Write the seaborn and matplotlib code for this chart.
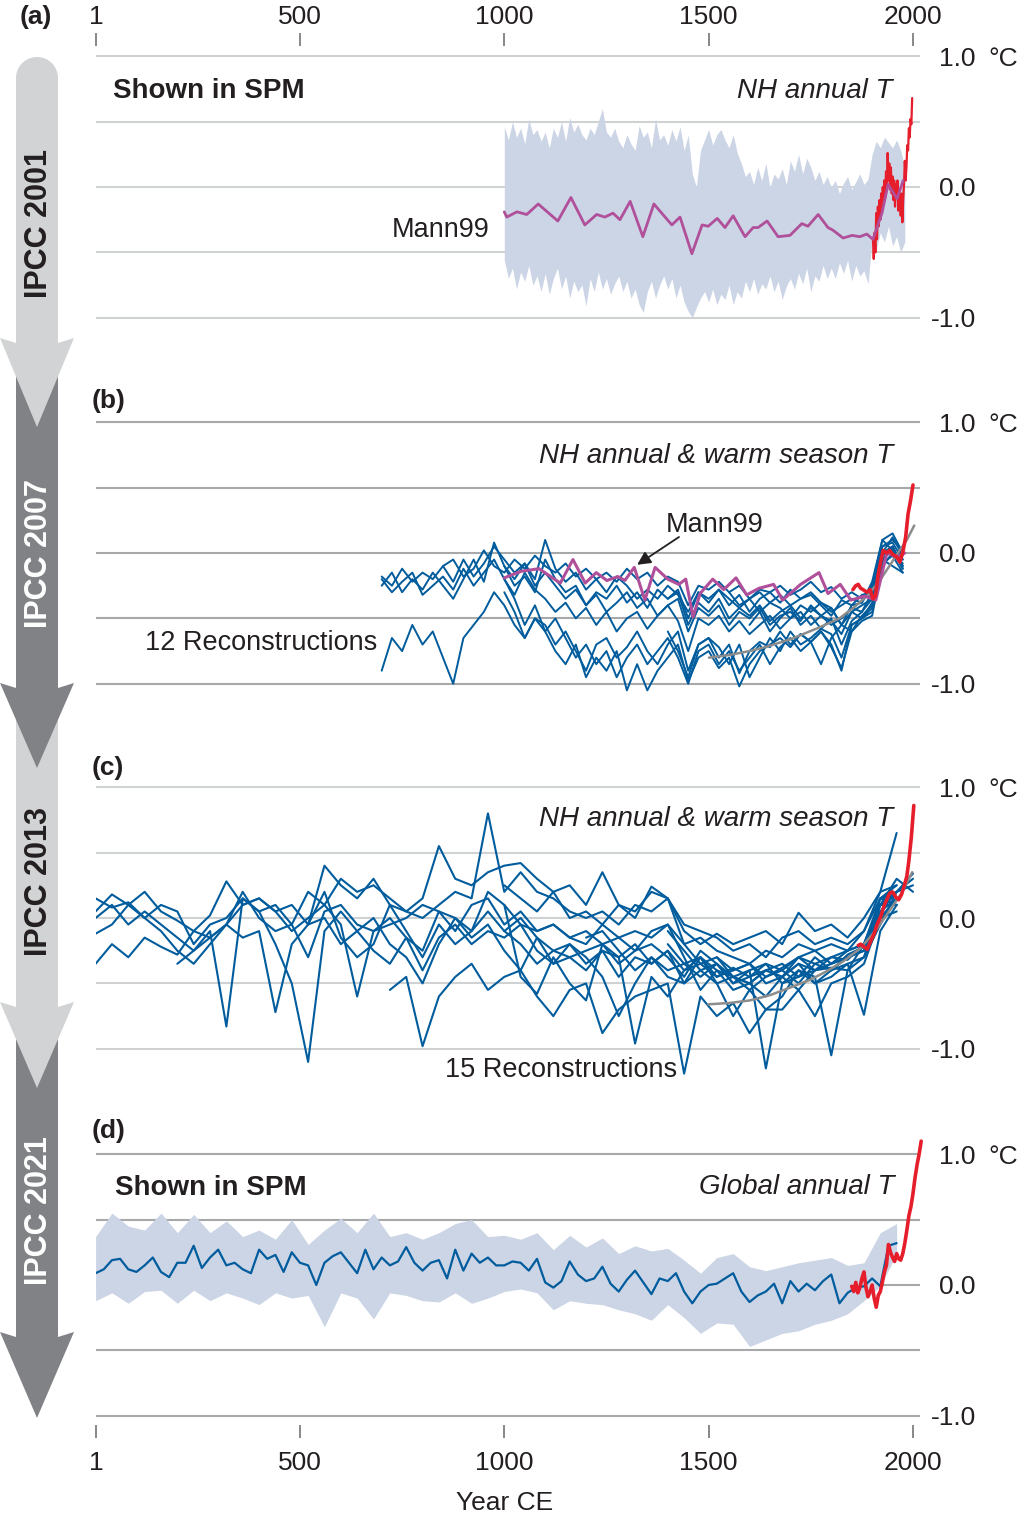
import numpy as np
import pandas as pd
import matplotlib
matplotlib.use("Agg")
import matplotlib.pyplot as plt
from matplotlib.patches import Polygon, Circle
import seaborn as sns

nan = np.nan

# ---------------- data ----------------
TICK_YEARS = [1, 500, 1000, 1500, 2000]

# (a) IPCC 2001: Mann99 uncertainty band, smoothed Mann99, instrumental
A_BAND_YEARS = list(range(1000, 1981, 10))
A_BAND_HI = [0.46, 0.36, 0.50, 0.38, 0.45, 0.33, 0.52, 0.40, 0.44, 0.35,
             0.42, 0.30, 0.45, 0.38, 0.50, 0.35, 0.53, 0.42, 0.48, 0.40,
             0.36, 0.45, 0.40, 0.50, 0.60, 0.42, 0.38, 0.45, 0.35, 0.30,
             0.40, 0.33, 0.28, 0.47, 0.38, 0.42, 0.30, 0.52, 0.36, 0.40,
             0.32, 0.44, 0.35, 0.46, 0.28, 0.40, 0.10, 0.00, 0.28, 0.36,
             0.44, 0.32, 0.40, 0.44, 0.36, 0.30, 0.40, 0.26, 0.18, 0.08,
             0.12, 0.02, 0.15, 0.05, 0.18, 0.00, 0.10, 0.06, 0.14, 0.02,
             0.20, 0.12, 0.25, 0.10, 0.22, 0.15, 0.05, 0.12, 0.02, 0.08,
             0.00, 0.05, -0.05, 0.03, 0.08, -0.02, 0.04, 0.10, 0.02, 0.06,
             0.25, 0.35, 0.30, 0.38, 0.34, 0.30, 0.36, 0.28, 0.15]
A_BAND_LO = [-0.56, -0.70, -0.62, -0.78, -0.65, -0.72, -0.60, -0.75, -0.68, -0.80,
             -0.66, -0.82, -0.70, -0.62, -0.78, -0.68, -0.85, -0.72, -0.80, -0.75,
             -0.91, -0.70, -0.80, -0.65, -0.78, -0.70, -0.82, -0.74, -0.68, -0.80,
             -0.72, -0.85, -0.78, -0.90, -0.96, -0.80, -0.72, -0.85, -0.75, -0.68,
             -0.78, -0.70, -0.85, -0.75, -0.88, -0.95, -1.00, -0.92, -0.85, -0.80,
             -0.88, -0.78, -0.90, -0.82, -0.86, -0.75, -0.90, -0.80, -0.85, -0.72,
             -0.80, -0.70, -0.82, -0.74, -0.78, -0.68, -0.80, -0.72, -0.86, -0.76,
             -0.70, -0.78, -0.66, -0.74, -0.62, -0.80, -0.68, -0.72, -0.60, -0.70,
             -0.62, -0.70, -0.58, -0.66, -0.56, -0.72, -0.60, -0.68, -0.64, -0.74,
             -0.40, -0.48, -0.35, -0.42, -0.30, -0.45, -0.38, -0.50, -0.42]
A_MANN_YEARS = [1000, 1006, 1031, 1055, 1083, 1131, 1163, 1197, 1226, 1246, 1266,
                1283, 1308, 1339, 1366, 1410, 1430, 1459, 1484, 1499, 1521, 1540,
                1560, 1589, 1609, 1621, 1643, 1670, 1699, 1728, 1743, 1768, 1792,
                1804, 1829, 1851, 1870, 1887, 1902, 1924, 1939, 1961, 1976]
A_MANN = [-0.19, -0.23, -0.19, -0.21, -0.13, -0.26, -0.08, -0.29, -0.21, -0.23, -0.20,
          -0.25, -0.11, -0.38, -0.13, -0.29, -0.23, -0.51, -0.29, -0.30, -0.24, -0.31,
          -0.22, -0.38, -0.31, -0.31, -0.26, -0.38, -0.37, -0.28, -0.30, -0.21, -0.31,
          -0.33, -0.39, -0.37, -0.38, -0.36, -0.40, -0.20, 0.02, -0.09, 0.05]
A_RED_YEARS = list(range(1902, 1999, 2))
A_RED = [-0.40, -0.55, -0.35, -0.50, -0.20, -0.40, -0.15, -0.30, -0.10, -0.25,
         -0.05, -0.20, 0.00, -0.10, 0.05, -0.08, 0.12, 0.00, 0.26, 0.05,
         0.18, -0.02, 0.15, -0.05, 0.08, -0.10, 0.05, -0.15, 0.02, -0.08,
         0.05, -0.18, -0.02, -0.12, -0.22, -0.05, -0.27, -0.10, 0.02, 0.20,
         0.05, 0.15, 0.32, 0.28, 0.45, 0.38, 0.52, 0.48, 0.68]

# (b) IPCC 2007: 12 reconstructions (25-yr steps), Mann99, boreholes, instrumental
B_YEARS = list(range(700, 2001, 25))
B_RECONS = [
    [-0.18, -0.25, -0.12, -0.22, -0.15, -0.20, -0.10, -0.05, -0.18, -0.12,
     0.02, -0.10, -0.15, -0.05, -0.12, -0.02, -0.10, -0.15, -0.08, -0.18,
     -0.12, -0.20, -0.15, -0.22, -0.12, -0.20, -0.15, -0.25, -0.18, -0.22,
     -0.40, -0.25, -0.28, -0.22, -0.30, -0.25, -0.35, -0.28, -0.30, -0.25,
     -0.32, -0.28, -0.22, -0.30, -0.26, -0.35, -0.30, -0.35, -0.25, 0.05,
     0.10, 0.02, nan],
    [-0.25, -0.15, -0.30, -0.20, -0.28, -0.15, -0.25, -0.35, -0.20, -0.05,
     -0.22, 0.08, -0.10, -0.25, -0.18, -0.30, -0.05, -0.20, -0.30, -0.25,
     -0.40, -0.30, -0.35, -0.25, -0.38, -0.30, -0.42, -0.28, -0.35, -0.30,
     -0.55, -0.38, -0.45, -0.35, -0.50, -0.42, -0.48, -0.40, -0.52, -0.45,
     -0.40, -0.50, -0.42, -0.48, -0.55, -0.50, -0.42, -0.45, -0.30, 0.00,
     0.05, -0.10, nan],
    [-0.20, -0.30, -0.22, -0.15, -0.32, -0.25, -0.18, -0.28, -0.12, -0.25,
     -0.15, -0.05, -0.20, -0.32, -0.15, -0.28, -0.35, -0.45, -0.38, -0.50,
     -0.42, -0.55, -0.45, -0.60, -0.50, -0.45, -0.58, -0.48, -0.40, -0.52,
     -0.75, -0.50, -0.55, -0.48, -0.60, -0.52, -0.62, -0.55, -0.48, -0.58,
     -0.50, -0.45, -0.55, -0.48, -0.52, -0.62, -0.45, -0.50, -0.38, -0.05,
     -0.10, -0.15, nan],
    [-0.90, -0.65, -0.75, -0.55, -0.70, -0.60, -0.80, -1.00, -0.65, -0.55,
     -0.45, -0.30, -0.40, -0.55, -0.65, -0.50, -0.60, -0.75, -0.85, -0.70,
     -0.95, -0.80, -0.90, -0.75, -1.05, -0.85, -1.05, -0.90, -0.80, -0.70,
     -0.98, -0.80, -0.75, -0.88, -0.80, -1.02, -0.85, -0.75, -0.70, -0.65,
     -0.72, -0.62, -0.68, -0.60, -0.70, -0.90, -0.55, -0.50, -0.42, -0.10,
     0.00, -0.08, nan],
    [nan] * 6 + [-0.10, -0.22, -0.05, -0.18,
     -0.08, 0.05, -0.05, -0.15, -0.08, -0.20, 0.10, -0.12, -0.22, -0.15,
     -0.28, -0.20, -0.30, -0.18, -0.25, -0.35, -0.28, -0.35, -0.25, -0.32,
     -0.45, -0.30, -0.38, -0.28, -0.35, -0.42, -0.35, -0.30, -0.38, -0.32,
     -0.40, -0.35, -0.30, -0.38, -0.45, -0.40, -0.35, -0.38, -0.22, 0.10,
     0.02, -0.05, nan],
    [nan] * 12 + [-0.30, -0.45, -0.65, -0.50, -0.55, -0.70, -0.60, -0.75,
     -0.90, -0.70, -0.65, -0.80, -0.72, -0.60, -0.75, -0.85, -0.70, -0.60,
     -0.90, -0.70, -0.65, -0.72, -0.85, -0.70, -0.95, -0.80, -0.65, -0.75,
     -0.60, -0.70, -0.65, -0.58, -0.62, -0.80, -0.55, -0.50, -0.45, -0.05,
     0.05, -0.12, nan],
    [nan] * 12 + [-0.10, -0.20, -0.08, -0.25, -0.15, -0.25, -0.35, -0.28,
     -0.40, -0.32, -0.45, -0.38, -0.30, -0.42, -0.35, -0.48, -0.40, -0.35,
     -0.60, -0.42, -0.48, -0.40, -0.55, -0.45, -0.50, -0.42, -0.55, -0.48,
     -0.45, -0.52, -0.40, -0.48, -0.42, -0.55, -0.45, -0.40, -0.35, 0.00,
     0.12, -0.02, nan],
    [nan] * 12 + [-0.20, -0.35, -0.55, -0.40, -0.60, -0.50, -0.65, -0.80,
     -0.70, -0.85, -0.75, -0.95, -0.80, -0.70, -0.85, -0.75, -0.65, -0.80,
     -1.00, -0.75, -0.70, -0.85, -0.75, -0.90, -0.80, -0.70, -0.85, -0.72,
     -0.65, -0.75, -0.68, -0.60, -0.72, -0.88, -0.60, -0.52, -0.48, -0.08,
     -0.02, -0.15, nan],
    [nan] * 28 + [-0.35, -0.28, -0.50, -0.30, -0.35, -0.28, -0.40, -0.32, -0.45, -0.35,
     -0.30, -0.38, -0.28, -0.35, -0.32, -0.40, -0.48, -0.36, -0.40, -0.32,
     -0.30, 0.05, 0.08, -0.05, nan],
    [nan] * 28 + [-0.60, -0.75, -0.95, -0.70, -0.65, -0.80, -0.70, -0.92, -0.75, -0.68,
     -0.72, -0.60, -0.70, -0.62, -0.68, -0.85, -0.65, -0.55, -0.60, -0.48,
     -0.40, -0.02, 0.05, -0.10, nan],
    [nan] * 34 + [-0.30, -0.40, -0.35, -0.45, -0.38, -0.42, -0.50, -0.40, -0.45, -0.38,
     -0.42, -0.55, -0.40, -0.38, -0.25, 0.10, 0.15, 0.00, nan],
    [nan] * 36 + [-0.55, -0.45, -0.60, -0.50, -0.42, -0.55, -0.48, -0.58, -0.50, -0.70,
     -0.52, -0.45, -0.35, -0.05, 0.02, -0.12, nan],
]
B_MANN_YEARS = [1000, 1041, 1085, 1137, 1168, 1198, 1225, 1251, 1278, 1295, 1318, 1344,
                1369, 1400, 1427, 1444, 1462, 1479, 1510, 1537, 1567, 1593, 1623, 1659,
                1681, 1725, 1770, 1792, 1822, 1848, 1882, 1909, 1936, 1962, 1980]
B_MANN = [-0.19, -0.14, -0.12, -0.23, -0.05, -0.23, -0.15, -0.21, -0.18, -0.21, -0.11, -0.36,
          -0.11, -0.20, -0.24, -0.20, -0.49, -0.31, -0.20, -0.28, -0.19, -0.32, -0.27, -0.24,
          -0.36, -0.24, -0.15, -0.31, -0.24, -0.36, -0.33, -0.36, 0.00, -0.03, 0.00]
B_BORE_YEARS = [1501, 1550, 1600, 1638, 1700, 1770, 1820, 1858, 1890, 1919, 1940, 1963, 1985, 2003]
B_BORE = [-0.80, -0.78, -0.75, -0.72, -0.66, -0.57, -0.50, -0.41, -0.32, -0.21, -0.11, 0.00, 0.10, 0.21]
B_RED_YEARS = [1853, 1860, 1866, 1872, 1878, 1887, 1895, 1902, 1908, 1914, 1920,
               1927, 1935, 1943, 1950, 1960, 1968, 1976, 1982, 1988, 1994, 2000]
B_RED = [-0.28, -0.25, -0.24, -0.27, -0.28, -0.30, -0.28, -0.35, -0.33, -0.18, -0.08,
         0.02, 0.00, 0.02, -0.01, -0.03, -0.07, 0.02, 0.12, 0.30, 0.40, 0.52]

# (c) IPCC 2013: 15 reconstructions (40-yr steps), boreholes, instrumental
C_YEARS = list(range(0, 2001, 40))
C_RECONS = [
    [0.05, 0.18, 0.10, 0.20, 0.05, -0.02, -0.10, 0.02, 0.28, 0.10,
     0.15, 0.05, 0.10, -0.05, 0.40, 0.25, 0.15, 0.30, 0.10, 0.05,
     0.15, 0.55, 0.30, 0.25, 0.35, 0.40, 0.42, 0.30, 0.20, 0.25,
     0.10, 0.35, 0.10, 0.05, 0.20, 0.15, -0.05, -0.10, -0.15, -0.25,
     -0.20, -0.30, -0.15, -0.10, -0.20, -0.15, -0.20, -0.10, 0.20, 0.25, nan],
    [0.15, 0.08, 0.12, 0.00, 0.10, 0.05, -0.20, -0.05, 0.00, 0.15,
     0.05, 0.10, -0.05, 0.20, 0.10, 0.30, 0.20, 0.25, 0.15, 0.05,
     0.00, 0.10, 0.20, 0.15, 0.80, 0.20, 0.35, 0.20, 0.15, 0.05,
     0.00, 0.05, -0.05, 0.10, 0.05, 0.15, -0.20, -0.15, -0.25, -0.30,
     -0.35, -0.25, -0.30, -0.20, -0.25, -0.20, -0.25, -0.10, 0.15, 0.10, nan],
    [-0.12, -0.05, 0.10, 0.00, -0.10, -0.25, -0.35, -0.20, -0.05, 0.20,
     0.00, -0.10, -0.05, -0.30, 0.05, 0.10, -0.05, -0.10, 0.00, -0.15,
     -0.25, 0.05, -0.10, 0.10, 0.15, -0.05, 0.05, -0.10, -0.05, -0.15,
     -0.20, -0.05, -0.15, -0.25, -0.10, -0.05, -0.30, -0.55, -0.40, -0.45,
     -0.50, -0.40, -0.45, -0.35, -0.40, -0.30, -0.32, -0.20, 0.10, 0.20, 0.25],
    [-0.35, -0.20, -0.30, -0.15, -0.22, -0.28, -0.10, -0.15, -0.05, -0.15,
     -0.10, -0.72, -0.20, -0.05, 0.00, -0.20, -0.10, -0.25, -0.35, -0.15,
     -0.40, -0.15, -0.05, -0.20, -0.10, -0.15, -0.05, -0.25, -0.35, -0.30,
     -0.40, -0.25, -0.45, -0.30, -0.35, -0.25, -0.50, -0.40, -0.50, -0.45,
     -0.55, -0.45, -0.40, -0.50, -0.35, -0.40, -0.30, -0.25, 0.05, 0.15, nan],
    [0.00, 0.10, -0.05, 0.05, -0.05, -0.15, -0.25, -0.10, -0.83, 0.15,
     0.05, -0.20, -0.50, -1.10, -0.10, 0.05, -0.10, 0.00, -0.20, -0.30,
     -0.50, -0.20, 0.00, -0.15, -0.05, -0.25, -0.40, -0.15, -0.35, -0.20,
     -0.30, -0.45, -0.75, -0.50, -0.30, -0.40, -0.35, -0.45, -0.35, -0.50,
     -0.40, -0.35, -0.40, -0.30, -0.25, -0.35, -0.25, -0.20, 0.10, 0.30, 0.20],
    [nan] * 5 + [-0.35, -0.25, -0.15, -0.05, 0.10,
     0.15, 0.05, -0.10, 0.00, 0.10, -0.05, -0.60, -0.10, -0.05, 0.00,
     0.10, 0.05, 0.00, -0.10, 0.20, 0.10, -0.05, -0.10, -0.05, -0.15,
     -0.10, -0.20, -0.15, -0.10, -0.15, -0.05, -0.20, -0.35, -0.30, -0.45,
     -0.40, -1.15, -0.50, -0.45, -0.40, -0.35, -0.30, -0.25, 0.15, 0.25, nan],
    [nan] * 13 + [-0.05, 0.20, -0.15, -0.30, -0.20, 0.10, -0.10,
     -0.30, -0.05, -0.20, -0.10, 0.05, -0.10, -0.20, -0.35, -0.25, -0.30,
     -0.25, -0.20, -0.35, -0.25, -0.20, -0.30, -0.45, -0.25, -0.35, -0.50,
     -0.45, -0.35, -0.50, -0.40, -0.45, -1.05, -0.40, -0.20, 0.10, 0.20, nan],
    [nan] * 18 + [-0.55, -0.45,
     -0.98, -0.60, -0.45, -0.35, -0.55, -0.45, -0.40, -0.60, -0.75, -0.55,
     -0.50, -0.88, -0.70, -0.60, -0.55, -0.50, -1.19, -0.60, -0.75, -0.65,
     -0.88, -0.70, -0.70, -0.55, -0.75, -0.50, -0.45, -0.35, 0.00, 0.05, nan],
    [nan] * 25 + [0.10, -0.45, -0.58, -0.30, -0.50,
     -0.63, -0.20, -0.30, -0.96, -0.45, -0.60, -0.40, -0.30, -0.50, -0.75,
     -0.55, -0.70, -0.60, -0.40, -0.50, -0.45, -0.35, -0.74, -0.10, 0.10, nan],
    [nan] * 25 + [0.25, 0.15, 0.05, 0.20, 0.00,
     0.05, -0.05, 0.10, 0.00, 0.24, 0.15, -0.10, -0.20, -0.12, -0.20,
     -0.15, -0.10, -0.20, 0.04, -0.10, -0.05, -0.15, 0.00, 0.20, 0.65, nan],
    [nan] * 25 + [-0.10, 0.00, -0.15, -0.25, -0.20,
     -0.35, -0.25, -0.30, -0.20, -0.35, -0.25, -0.40, -0.35, -0.45, -0.40,
     -0.35, -0.45, -0.38, -0.30, -0.40, -0.35, -0.30, -0.25, 0.00, 0.15, nan],
    [nan] * 35 + [-0.20, -0.35, -0.30, -0.45, -0.38,
     -0.45, -0.40, -0.35, -0.45, -0.30, -0.40, -0.28, -0.22, 0.05, 0.20, 0.34],
    [nan] * 35 + [-0.10, -0.25, -0.40, -0.35, -0.45,
     -0.50, -0.40, -0.45, -0.35, -0.50, -0.40, -0.35, -0.30, 0.10, 0.10, nan],
    [nan] * 38 + [-0.30, -0.40,
     -0.35, -0.50, -0.45, -0.30, -0.35, -0.30, -0.25, -0.20, 0.15, 0.20, 0.30],
    [nan] * 30 + [-0.15, -0.10, -0.25, -0.40, -0.30, -0.45, -0.50, -0.30, -0.40, -0.55,
     -0.50, -0.60, -0.45, -0.55, -0.40, -0.38, -0.40, -0.30, -0.05, 0.20, nan],
]
C_BORE_YEARS = [1499, 1550, 1601, 1650, 1701, 1750, 1787, 1830, 1872, 1910, 1939, 1970, 1998]
C_BORE = [-0.66, -0.65, -0.63, -0.59, -0.53, -0.47, -0.41, -0.33, -0.23, -0.09, 0.04, 0.18, 0.35]
C_RED_YEARS = [1866, 1872, 1880, 1888, 1896, 1905, 1912, 1921, 1930, 1943,
               1950, 1958, 1965, 1972, 1978, 1985, 1990, 1996, 2002]
C_RED = [-0.21, -0.20, -0.22, -0.24, -0.18, -0.12, -0.05, 0.01, 0.10, 0.19,
         0.20, 0.16, 0.14, 0.18, 0.24, 0.32, 0.44, 0.62, 0.86]

# (d) IPCC 2021: global reconstruction, its range, instrumental
D_YEARS = list(range(0, 1961, 20))
D_MEAN = [0.09, 0.12, 0.19, 0.20, 0.12, 0.10, 0.15, 0.21, 0.10, 0.06,
          0.17, 0.17, 0.30, 0.13, 0.21, 0.27, 0.15, 0.17, 0.12, 0.09,
          0.27, 0.20, 0.23, 0.10, 0.25, 0.17, 0.15, 0.00, 0.17, 0.22,
          0.25, 0.17, 0.09, 0.27, 0.12, 0.21, 0.15, 0.18, 0.29, 0.17,
          0.11, 0.17, 0.19, 0.05, 0.27, 0.11, 0.24, 0.17, 0.21, 0.15,
          0.15, 0.18, 0.17, 0.11, 0.20, 0.02, -0.02, 0.03, 0.18, 0.08,
          0.03, 0.05, 0.14, 0.01, -0.05, 0.04, 0.11, 0.02, -0.07, 0.05,
          0.03, 0.09, -0.05, -0.14, -0.05, 0.00, 0.01, 0.05, 0.09, -0.05,
          -0.13, -0.08, -0.05, 0.01, -0.14, 0.03, -0.05, 0.01, -0.04, 0.03,
          0.08, -0.14, -0.06, -0.02, -0.01, 0.05, -0.01, 0.30, 0.32]
D_BAND_YEARS = list(range(0, 1961, 40))
D_BAND_HI = [0.37, 0.55, 0.45, 0.42, 0.55, 0.40, 0.54, 0.40, 0.49, 0.37,
             0.42, 0.35, 0.50, 0.31, 0.42, 0.51, 0.40, 0.55, 0.37, 0.40,
             0.35, 0.40, 0.47, 0.50, 0.37, 0.38, 0.35, 0.40, 0.27, 0.38,
             0.29, 0.36, 0.24, 0.30, 0.26, 0.28, 0.19, 0.09, 0.21, 0.24,
             0.14, 0.11, 0.14, 0.17, 0.19, 0.21, 0.15, 0.17, 0.40, 0.47]
D_BAND_LO = [-0.12, -0.06, -0.14, -0.05, -0.04, -0.14, -0.04, -0.12, -0.06, -0.10,
             -0.15, -0.06, -0.10, -0.08, -0.32, -0.06, -0.10, -0.26, -0.06, -0.08,
             -0.12, -0.13, -0.06, -0.14, -0.10, -0.05, -0.03, -0.06, -0.19, -0.12,
             -0.14, -0.15, -0.19, -0.22, -0.27, -0.15, -0.25, -0.37, -0.29, -0.30,
             -0.47, -0.42, -0.37, -0.35, -0.30, -0.27, -0.22, -0.12, -0.01, 0.24]
D_RED_YEARS = list(range(1850, 2021, 5))
D_RED = [-0.01, -0.05, 0.02, -0.06, -0.02, 0.05, 0.10, -0.02, -0.09, -0.05,
         0.00, -0.10, -0.17, -0.08, -0.05, 0.02, 0.10, 0.15, 0.31, 0.25,
         0.21, 0.18, 0.24, 0.20, 0.19, 0.24, 0.32, 0.42, 0.53, 0.60,
         0.70, 0.82, 0.92, 1.00, 1.10]

# ---------------- styling ----------------
W, H = 1020, 1520
X0, PX_PER_YR, PX_PER_DEG = 96, 0.4087, 130.8
YEAR_MAX = 2025
BLUE = "#005c9c"
RED = "#e61e2b"
MAGENTA = "#b04f9a"
BAND = "#ccd5e6"
BORE = "#8c8c8c"
LIGHT = "#d1d3d4"
DARK = "#808285"
TXT = "#231f20"
GRID_LIGHT = "#d0d1d2"
GRID_DARK = "#a7a8aa"

sns.set_style("white")
plt.rcParams["font.family"] = ["Liberation Sans", "DejaVu Sans"]


def fx(px):
    return px / W


def fy(py):
    return 1 - py / H


def long_df(years, recons):
    rows = []
    for k, vals in enumerate(recons):
        for yr, v in zip(years, vals):
            if not np.isnan(v):
                rows.append({"year": yr, "T": v, "rec": k})
    return pd.DataFrame(rows)


fig = plt.figure(figsize=(W / 100, H / 100), dpi=100)

# arrows down the left side, in pixel coordinates
bg = fig.add_axes([0, 0, 1, 1], zorder=0)
bg.set_xlim(0, W)
bg.set_ylim(H, 0)
bg.axis("off")


def arrow(top, head, tip, color, round_top=False):
    pts = [(16, top), (58, top), (58, head + 5), (74, head), (37, tip), (0, head), (16, head + 5)]
    bg.add_patch(Polygon(pts, closed=True, fc=color, ec="none"))
    if round_top:
        bg.add_patch(Circle((37, top), 21, fc=color, ec="none"))


arrow(1010, 1332, 1418, DARK)
arrow(690, 1002, 1088, LIGHT)
arrow(340, 683, 768, DARK)
arrow(78, 338, 427, LIGHT, round_top=True)

for label, yc, col in [("IPCC 2001", 223, TXT), ("IPCC 2007", 554, "white"),
                       ("IPCC 2013", 882, TXT), ("IPCC 2021", 1211, "white")]:
    fig.text(fx(39), fy(yc), label, rotation=90, ha="center", va="center",
             fontsize=22, fontweight="bold", color=col)


def panel(zero_px, grid_color):
    bottom = zero_px + 1.3 * PX_PER_DEG
    ax = fig.add_axes([fx(X0), fy(bottom), (YEAR_MAX - 1) * PX_PER_YR / W, 2.6 * PX_PER_DEG / H])
    ax.patch.set_alpha(0)
    for s in ax.spines.values():
        s.set_visible(False)
    ax.hlines([-1, -0.5, 0, 0.5, 1], 1, 2017, color=grid_color, lw=1.5, zorder=0)
    fig.text(fx(988), fy(zero_px - PX_PER_DEG), "°C", ha="left", va="center_baseline",
             fontsize=19, color=TXT)
    return ax


def finish(ax):
    ax.set_xlim(1, YEAR_MAX)
    ax.set_ylim(-1.3, 1.3)
    ax.set_xlabel("")
    ax.set_ylabel("")
    ax.tick_params(axis="x", bottom=False, labelbottom=False)
    ax.yaxis.tick_right()
    ax.set_yticks([-1, 0, 1], ["-1.0", "0.0", "1.0"])
    ax.tick_params(axis="y", length=0, pad=38, labelsize=19, labelcolor=TXT)
    for lab in ax.get_yticklabels():
        lab.set_horizontalalignment("right")


# (a)
ax_a = panel(187, GRID_LIGHT)
ax_a.fill_between(A_BAND_YEARS, A_BAND_LO, A_BAND_HI, color=BAND, lw=0, zorder=1)
sns.lineplot(x=A_RED_YEARS, y=A_RED, color=RED, lw=1.6, ax=ax_a, zorder=2)
sns.lineplot(x=A_MANN_YEARS, y=A_MANN, color=MAGENTA, lw=2.0, ax=ax_a, zorder=3)
finish(ax_a)

# (b)
ax_b = panel(553, GRID_DARK)
sns.lineplot(data=long_df(B_YEARS, B_RECONS), x="year", y="T", units="rec",
             estimator=None, color=BLUE, lw=1.4, ax=ax_b, zorder=2)
sns.lineplot(x=B_BORE_YEARS, y=B_BORE, color=BORE, lw=1.8, ax=ax_b, zorder=3)
sns.lineplot(x=B_MANN_YEARS, y=B_MANN, color=MAGENTA, lw=2.2, ax=ax_b, zorder=4)
sns.lineplot(x=B_RED_YEARS, y=B_RED, color=RED, lw=2.6, ax=ax_b, zorder=5)
ax_b.annotate("", xy=(1325, -0.09), xytext=(fx(679), fy(537)), textcoords="figure fraction",
              arrowprops=dict(arrowstyle="-|>", color=TXT, lw=1.3, mutation_scale=20,
                              shrinkA=0, shrinkB=0))
finish(ax_b)

# (c)
ax_c = panel(918, GRID_LIGHT)
sns.lineplot(data=long_df(C_YEARS, C_RECONS), x="year", y="T", units="rec",
             estimator=None, color=BLUE, lw=1.5, ax=ax_c, zorder=2)
sns.lineplot(x=C_BORE_YEARS, y=C_BORE, color=BORE, lw=1.8, ax=ax_c, zorder=3)
sns.lineplot(x=C_RED_YEARS, y=C_RED, color=RED, lw=2.6, ax=ax_c, zorder=5)
finish(ax_c)

# (d)
ax_d = panel(1285, GRID_DARK)
ax_d.fill_between(D_BAND_YEARS, D_BAND_LO, D_BAND_HI, color=BAND, lw=0, zorder=1)
sns.lineplot(x=D_YEARS, y=D_MEAN, color=BLUE, lw=1.6, ax=ax_d, zorder=2)
sns.lineplot(x=D_RED_YEARS, y=D_RED, color=RED, lw=2.6, ax=ax_d, zorder=3)
finish(ax_d)

# year axes above and below
for top_px, bot_px, where in [(33, 46, "top"), (1425, 1438, "bottom")]:
    tax = fig.add_axes([fx(X0), fy(bot_px), (YEAR_MAX - 1) * PX_PER_YR / W, (bot_px - top_px) / H])
    tax.patch.set_alpha(0)
    tax.set_xlim(1, YEAR_MAX)
    tax.set_yticks([])
    for s in tax.spines.values():
        s.set_visible(False)
    tax.set_xticks(TICK_YEARS, [str(t) for t in TICK_YEARS])
    if where == "top":
        tax.tick_params(axis="x", top=True, labeltop=True, bottom=False, labelbottom=False, pad=3)
    else:
        tax.tick_params(axis="x", bottom=True, labelbottom=True, top=False, labeltop=False, pad=9)
    tax.tick_params(axis="x", direction="in", length=9.4, width=1.3, color="#7f7f7f",
                    labelsize=19, labelcolor=TXT)

fig.text(fx(505), fy(1510), "Year CE", ha="center", va="baseline", fontsize=19, color=TXT)

# panel letters and labels
for letter, x, y in [("(a)", 20, 24), ("(b)", 92, 408), ("(c)", 92, 775), ("(d)", 92, 1138)]:
    fig.text(fx(x), fy(y), letter, ha="left", va="baseline", fontsize=19,
             fontweight="bold", color=TXT)

fig.text(fx(113), fy(98), "Shown in SPM", ha="left", va="baseline", fontsize=20,
         fontweight="bold", color=TXT)
fig.text(fx(115), fy(1195), "Shown in SPM", ha="left", va="baseline", fontsize=20,
         fontweight="bold", color=TXT)
fig.text(fx(893), fy(98), "NH annual T", ha="right", va="baseline", fontsize=20,
         style="italic", color=TXT)
fig.text(fx(893), fy(463), "NH annual & warm season T", ha="right", va="baseline",
         fontsize=20, style="italic", color=TXT)
fig.text(fx(893), fy(826), "NH annual & warm season T", ha="right", va="baseline",
         fontsize=20, style="italic", color=TXT)
fig.text(fx(895), fy(1194), "Global annual T", ha="right", va="baseline", fontsize=20,
         style="italic", color=TXT)
fig.text(fx(490), fy(237), "Mann99", ha="right", va="baseline", fontsize=19.5, color=TXT)
fig.text(fx(666), fy(532), "Mann99", ha="left", va="baseline", fontsize=19.5, color=TXT)
fig.text(fx(377), fy(650), "12 Reconstructions", ha="right", va="baseline", fontsize=19.5,
         color=TXT)
fig.text(fx(561), fy(1077), "15 Reconstructions", ha="center", va="baseline", fontsize=19.5,
         color=TXT)

fig.savefig("out.png", dpi=100)
